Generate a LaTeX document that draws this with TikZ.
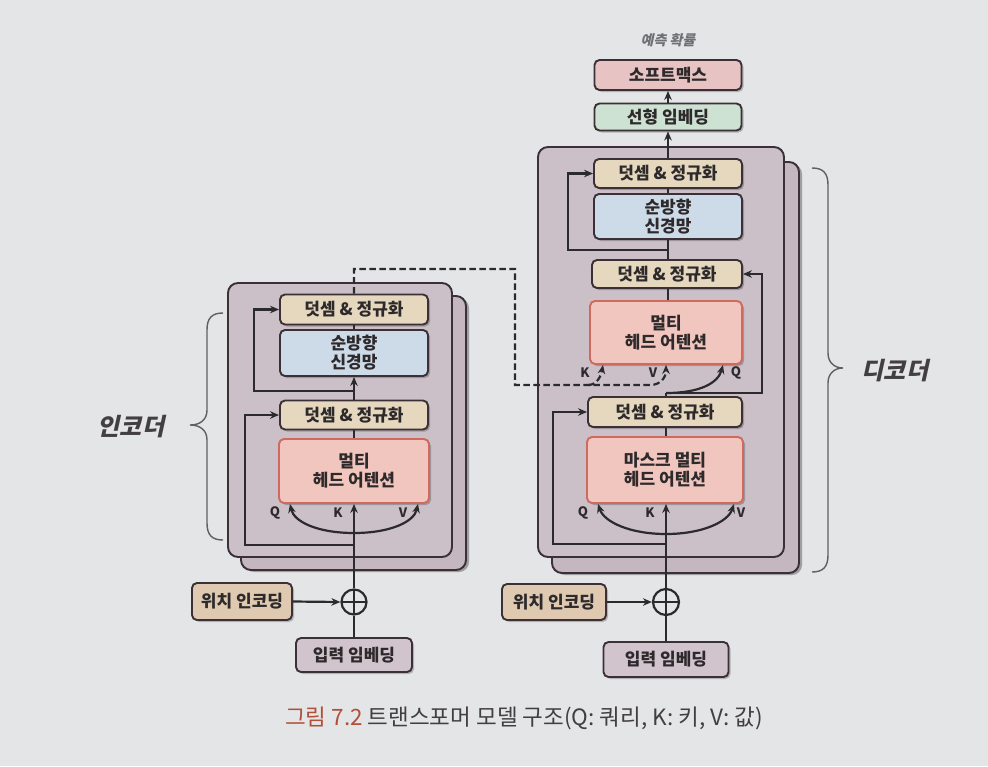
\documentclass[tikz,border=0pt]{standalone}
\usepackage{fontspec}
\newfontfamily\kr{Noto Sans CJK KR}
\newfontfamily\krsl{Noto Sans CJK KR}[FakeSlant=0.22]
\usetikzlibrary{arrows.meta}
\definecolor{bg}{HTML}{E3E5E6}
\definecolor{blockfill}{HTML}{CBC0C8}
\definecolor{blockback}{HTML}{C4B7C0}
\definecolor{blockline}{HTML}{3B3035}
\definecolor{anfill}{HTML}{E5D8BE}
\definecolor{ffnfill}{HTML}{CDDAE8}
\definecolor{mhafill}{HTML}{F1C6BE}
\definecolor{mhaline}{HTML}{CF6A5E}
\definecolor{softfill}{HTML}{E7C4C3}
\definecolor{linfill}{HTML}{CDE2D2}
\definecolor{pefill}{HTML}{DFCAB1}
\definecolor{inpfill}{HTML}{D2C4CD}
\definecolor{ln}{HTML}{2B2A2D}
\definecolor{txt}{HTML}{2E2A2C}
\definecolor{capred}{HTML}{B0503A}
\definecolor{gtxt}{HTML}{6F6F74}
\tikzset{
  arr/.style={-{Stealth[length=9pt,width=7.5pt]}},
  conn/.style={draw=ln, line width=2.2pt},
  dsh/.style={dash pattern=on 6.5pt off 3.5pt},
  shadowed/.style={preaction={fill=black, opacity=0.22, transform canvas={xshift=2pt,yshift=-2pt}}},
  box/.style={draw=blockline, line width=1.9pt, rounded corners=5pt, inner sep=0pt, align=center,
    text=txt, font=\kr\bfseries\fontsize{17}{19}\selectfont, shadowed},
  anbox/.style={box, fill=anfill, minimum width=148pt, minimum height=30pt},
  ffnbox/.style={box, fill=ffnfill, minimum width=148pt, minimum height=46pt},
  mhabox/.style={box, fill=mhafill, draw=mhaline, minimum width=152pt, minimum height=64pt},
  blk/.style={draw=blockline, line width=1.9pt, rounded corners=10pt, fill=blockfill},
  blkback/.style={draw=blockline, line width=1.9pt, rounded corners=10pt, fill=blockback,
    preaction={fill=black, opacity=0.3, transform canvas={xshift=3pt,yshift=-2pt}}},
  qkv/.style={font=\kr\bfseries\fontsize{13}{13}\selectfont, text=txt, inner sep=0pt},
  plus/.style={circle, draw=ln, line width=2.2pt, minimum size=25pt, inner sep=0pt,
    path picture={\draw[ln, line width=2.2pt] (path picture bounding box.north) -- (path picture bounding box.south)
      (path picture bounding box.west) -- (path picture bounding box.east);}},
  side/.style={font=\krsl\bfseries\fontsize{24}{24}\selectfont, text=txt!90},
}
\begin{document}
\begin{tikzpicture}[x=1pt, y=-1pt]
\useasboundingbox (0,0) rectangle (988,766);
\fill[bg] (0,0) rectangle (988,766);

% ---------- encoder blocks ----------
\draw[blkback] (241,296) rectangle (466,570);
\draw[blk] (228,283) rectangle (452,557);
% ---------- decoder blocks ----------
\draw[blkback] (552,162) rectangle (799,573);
\draw[blk] (538,147) rectangle (784,557);

% ---------- encoder nodes ----------
\node[anbox] (ean1) at (354,309.5) {덧셈 \& 정규화};
\node[ffnbox] (effn) at (354,353) {순방향\\신경망};
\node[anbox, minimum height=29pt] (ean2) at (354,415) {덧셈 \& 정규화};
\node[mhabox, minimum width=150pt] (emha) at (354,471) {멀티\\헤드 어텐션};
\node[qkv] (eq) at (275,513) {Q};
\node[qkv] (ek) at (338,513) {K};
\node[qkv] (ev) at (403,513) {V};
\node[plus] (ecirc) at (354,602) {};
\node[box, fill=pefill, minimum width=100pt, minimum height=37pt] (epe) at (242,601.5) {위치 인코딩};
\node[box, fill=inpfill, minimum width=116pt, minimum height=34pt] (einp) at (354,655) {입력 임베딩};
\coordinate (earc) at (354,533);
\coordinate (eres1) at (354,545);
\coordinate (eres1l) at (245,545);
\coordinate (eres2) at (354,391);
\coordinate (eres2l) at (254,391);
\coordinate (eup) at (354,269);
\coordinate (ecorner) at (515,269);
\coordinate (ddown) at (515,385);

% ---------- decoder nodes ----------
\node[box, fill=softfill, minimum width=147pt, minimum height=30pt] (soft) at (668,75) {소프트맥스};
\node[box, fill=linfill, minimum width=147pt, minimum height=27pt] (lin) at (668,117) {선형 임베딩};
\node[font=\krsl\bfseries\fontsize{14}{14}\selectfont, text=gtxt] (pred) at (668,40) {예측 확률};
\node[anbox, minimum height=29pt] (dan1) at (668,173.5) {덧셈 \& 정규화};
\node[ffnbox, minimum height=45pt] (dffn) at (668,216.5) {순방향\\신경망};
\node[anbox, minimum width=150pt, minimum height=28pt] (dan2) at (667,274) {덧셈 \& 정규화};
\node[mhabox, minimum height=63pt] (dmha1) at (666,332.5) {멀티\\헤드 어텐션};
\node[qkv] (dk1) at (585,373) {K};
\node[qkv] (dv1) at (653,373) {V};
\node[qkv] (dq1) at (736,373) {Q};
\node[anbox, minimum width=154pt] (dan3) at (665,412) {덧셈 \& 정규화};
\node[mhabox, minimum width=156pt, minimum height=66pt] (dmha2) at (665,470) {마스크 멀티\\헤드 어텐션};
\node[qkv] (dq2) at (583,513) {Q};
\node[qkv] (dk2) at (650,513) {K};
\node[qkv] (dv2) at (741,513) {V};
\node[plus, minimum size=26pt] (dcirc) at (666,602) {};
\node[box, fill=pefill, minimum width=104pt, minimum height=36pt] (dpe) at (554,602) {위치 인코딩};
\node[box, fill=inpfill, minimum width=125pt, minimum height=35pt] (dinp) at (666,659.5) {입력 임베딩};
\coordinate (darc) at (666,534);
\coordinate (dres1) at (666,544);
\coordinate (dres1l) at (553,544);
\coordinate (djunc) at (666,393);
\coordinate (dres2r) at (762,393);
\coordinate (dres3) at (668,250);
\coordinate (dres3l) at (568,250);
\coordinate (dkstart) at (588,385);
\coordinate (dvbend) at (650,385);

% ---------- encoder connectors ----------
\draw[conn] (einp.north) -- (ecirc.south);
\draw[conn, arr] (ecirc.north) -- (emha.south);
\draw[conn, arr] (epe.east) -- (ecirc.west);
\draw[conn, arr] (earc) .. controls (318,533) and (294,522) .. (emha.south -| 290,0);
\draw[conn, arr] (earc) .. controls (390,533) and (414,522) .. (emha.south -| 418,0);
\draw[conn, arr] (eres1) -- (eres1l) |- (ean2.west);
\draw[conn] (emha.north) -- (ean2.south);
\draw[conn, arr] (ean2.north) -- (effn.south);
\draw[conn, arr] (eres2) -- (eres2l) |- (ean1.west);
\draw[conn] (effn.north) -- (ean1.south);

% ---------- encoder -> decoder (dashed) ----------
\draw[conn, dsh, arr] (ean1.north) -- (eup) -- (ecorner) -- (ddown) -- (dvbend)
  .. controls (661,385) and (666,377) .. (dmha1.south);
\draw[conn, dsh, arr] (dkstart) .. controls (597,385) and (601,376) .. (dmha1.south -| 603,0);

% ---------- decoder connectors ----------
\draw[conn] (dinp.north) -- (dcirc.south);
\draw[conn, arr] (dcirc.north) -- (dmha2.south -| dcirc);
\draw[conn, arr] (dpe.east) -- (dcirc.west);
\draw[conn, arr] (darc) .. controls (630,534) and (604,522) .. (dmha2.south -| 598,0);
\draw[conn, arr] (darc) .. controls (702,534) and (728,522) .. (dmha2.south -| 734,0);
\draw[conn, arr] (dres1) -- (dres1l) |- (dan3.west);
\draw[conn] (dmha2.north -| dcirc) -- (dan3.south -| dcirc);
\draw[conn] (dan3.north -| dcirc) -- (djunc);
\draw[conn, arr] (djunc) .. controls (700,393) and (718,383) .. (dmha1.south -| 723,0);
\draw[conn, arr] (djunc) -- (dres2r) |- (dan2.east);
\draw[conn] (dmha1.north -| dan1) -- (dan2.south -| dan1);
\draw[conn] (dan2.north -| dan1) -- (dffn.south);
\draw[conn, arr] (dres3) -- (dres3l) |- (dan1.west);
\draw[conn] (dffn.north) -- (dan1.south);
\draw[conn, arr] (dan1.north) -- (lin.south);
\draw[conn, arr] (lin.north) -- (soft.south);

% ---------- braces ----------
\draw[draw=txt!75, line width=1.4pt] (223,313) .. controls (212,313) and (207,318) .. (207,330) -- (207,410)
  .. controls (207,420) and (200,425) .. (190,425) .. controls (200,425) and (207,430) .. (207,440)
  -- (207,523) .. controls (207,535) and (212,540) .. (223,540);
\node[side] (enclab) at (131,427) {인코더};
\draw[draw=txt!75, line width=1.4pt] (812,168) .. controls (823,168) and (828,173) .. (828,185) -- (828,353)
  .. controls (828,363) and (835,368) .. (843,368) .. controls (835,368) and (828,373) .. (828,383)
  -- (828,555) .. controls (828,567) and (823,572) .. (812,572);
\node[side] (declab) at (895,371) {디코더};

% ---------- caption ----------
\node[font=\kr\fontsize{22.5}{22.5}\selectfont, text=txt!90, anchor=center] (cap) at (524,718)
  {\textcolor{capred}{그림 7.2} 트랜스포머 모델 구조(Q: 쿼리, K: 키, V: 값)};
\end{tikzpicture}
\end{document}
